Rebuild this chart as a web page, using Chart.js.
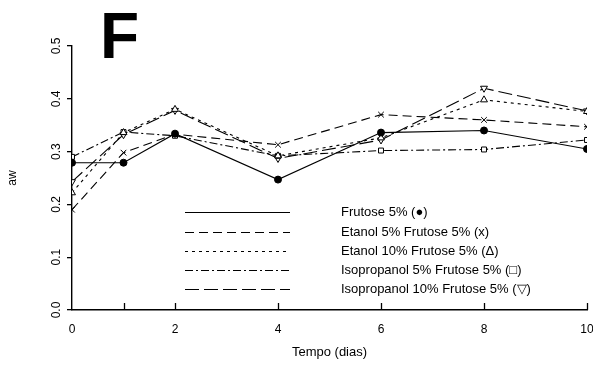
<!DOCTYPE html>
<html>
<head>
<meta charset="utf-8">
<script src="https://cdn.jsdelivr.net/npm/chart.js@4"></script>
<style>
  html, body { margin: 0; padding: 0; background: #fff; }
  #wrap { width: 593px; height: 374px; }
</style>
</head>
<body>
<div id="wrap"><canvas id="chart"></canvas></div>
<script>
const dias = [0, 1, 2, 4, 6, 8, 10];
const frutose5 = [0.279, 0.279, 0.334, 0.247, 0.336, 0.340, 0.305];
const etanol5 = [0.190, 0.298, 0.333, 0.313, 0.370, 0.360, 0.347];
const etanol10 = [0.222, 0.336, 0.380, 0.292, 0.326, 0.398, 0.376];
const isoprop5 = [0.290, 0.337, 0.330, 0.292, 0.302, 0.304, 0.322];
const isoprop10 = [0.243, 0.332, 0.378, 0.287, 0.322, 0.420, 0.377];
const seriesLabels = [
    'Frutose 5% (\u25CF)',
    'Etanol 5% Frutose 5% (x)',
    'Etanol 10% Frutose 5% (\u0394)',
    'Isopropanol 5% Frutose 5% (\u25A1)',
    'Isopropanol 10% Frutose 5% (\u25BD)'
];
const yTicks = [0, 0.1, 0.2, 0.3, 0.4, 0.5];

const toPoints = arr => arr.map((v, i) => ({ x: dias[i], y: v }));

const baseDs = {
    borderColor: '#000',
    borderWidth: 1.1,
    pointBorderColor: '#000',
    pointBackgroundColor: '#fff',
    pointBorderWidth: 1,
    pointRadius: 3.5,
    tension: 0,
    fill: false
}

const datasets = [
    { ...baseDs, label: seriesLabels[0], data: toPoints(frutose5), borderDash: [], pointStyle: 'circle', pointBackgroundColor: '#000' },
    { ...baseDs, label: seriesLabels[1], data: toPoints(etanol5), borderDash: [9, 5], pointStyle: 'crossRot', pointRadius: 4 },
    { ...baseDs, label: seriesLabels[2], data: toPoints(etanol10), borderDash: [3, 4], pointStyle: 'triangle', pointRadius: 4 },
    { ...baseDs, label: seriesLabels[3], data: toPoints(isoprop5), borderDash: [8, 3, 2, 3], pointStyle: 'rect', pointRadius: 3.5 },
    { ...baseDs, label: seriesLabels[4], data: toPoints(isoprop10), borderDash: [14, 5], pointStyle: 'triangle', pointRotation: 180, pointRadius: 4 }
];

// letter, rotated y labels, inner x ticks and the line legend
const extras = {
    id: 'extras',
    afterDraw(chart) {
        const ctx = chart.ctx;
        const xs = chart.scales.x, ys = chart.scales.y;
        ctx.save();
        ctx.fillStyle = '#000';
        ctx.strokeStyle = '#000';

        ctx.font = 'bold 64px "Liberation Sans", Arial, sans-serif';
        ctx.textBaseline = 'alphabetic';
        ctx.textAlign = 'left';
        ctx.fillText('F', 100, 58);

        ctx.font = '12px "Liberation Sans", Arial, sans-serif';
        ctx.textAlign = 'center';
        ctx.textBaseline = 'middle';
        yTicks.forEach(v => {
            const py = ys.getPixelForValue(v);
            ctx.save();
            ctx.translate(57, py);
            ctx.rotate(-Math.PI / 2);
            ctx.fillText(v.toFixed(1), 0, 0);
            ctx.restore();
        });

        ctx.lineWidth = 1.3;
        const bottom = chart.chartArea.bottom;
        dias.forEach(d => {
            if (d === 0) return;
            const px = Math.round(xs.getPixelForValue(d)) + 0.5;
            ctx.beginPath();
            ctx.moveTo(px, bottom);
            ctx.lineTo(px, bottom - 7);
            ctx.stroke();
        });

        const rowY = [212, 232, 251, 270, 289];
        ctx.textAlign = 'left';
        ctx.font = '13px "Liberation Sans", Arial, sans-serif';
        chart.data.datasets.forEach((ds, i) => {
            const y = rowY[i] + 0.5;
            ctx.lineWidth = 1.1;
            ctx.setLineDash(ds.borderDash || []);
            ctx.beginPath();
            ctx.moveTo(185, y);
            ctx.lineTo(290, y);
            ctx.stroke();
            ctx.setLineDash([]);
            ctx.fillText(ds.label, 341, y);
        });
        ctx.restore();
    }
}

new Chart(document.getElementById('chart'), {
    type: 'line',
    data: { datasets },
    options: {
        responsive: true,
        maintainAspectRatio: false,
        animation: false,
        layout: { padding: { top: 46, right: 6, left: 0, bottom: 0 } },
        plugins: {
            legend: { display: false },
            tooltip: { enabled: false }
        },
        scales: {
            x: {
                type: 'linear',
                min: 0,
                max: 10,
                afterBuildTicks: scale => { scale.ticks = dias.map(v => ({ value: v })); },
                afterFit: scale => {
                    scale.height = 64;
                    scale.paddingLeft = 0;
                    scale.paddingRight = 0;
                },
                grid: { display: false },
                border: { display: true, color: '#000', width: 1.4 },
                ticks: {
                    color: '#000',
                    padding: 4,
                    maxRotation: 0,
                    autoSkip: false,
                    font: { family: '"Liberation Sans", Arial, sans-serif', size: 12 },
                    callback: v => (v === 1 ? '' : v)
                },
                title: {
                    display: true,
                    text: 'Tempo (dias)',
                    color: '#000',
                    font: { family: '"Liberation Sans", Arial, sans-serif', size: 13 },
                    padding: { top: 0, bottom: 14 }
                }
            },
            y: {
                min: 0,
                max: 0.5,
                afterBuildTicks: scale => { scale.ticks = yTicks.map(v => ({ value: v })); },
                afterFit: scale => { scale.width = 72; },
                grid: { display: true, drawOnChartArea: false, drawTicks: true, tickLength: 5, color: '#000', lineWidth: 1.3 },
                border: { display: true, color: '#000', width: 1.4 },
                ticks: { display: false },
                title: {
                    display: true,
                    text: 'aw',
                    color: '#000',
                    font: { family: '"Liberation Sans", Arial, sans-serif', size: 12 },
                    padding: { top: 5, bottom: 0 }
                }
            }
        }
    },
    plugins: [extras]
});
</script>
</body>
</html>
